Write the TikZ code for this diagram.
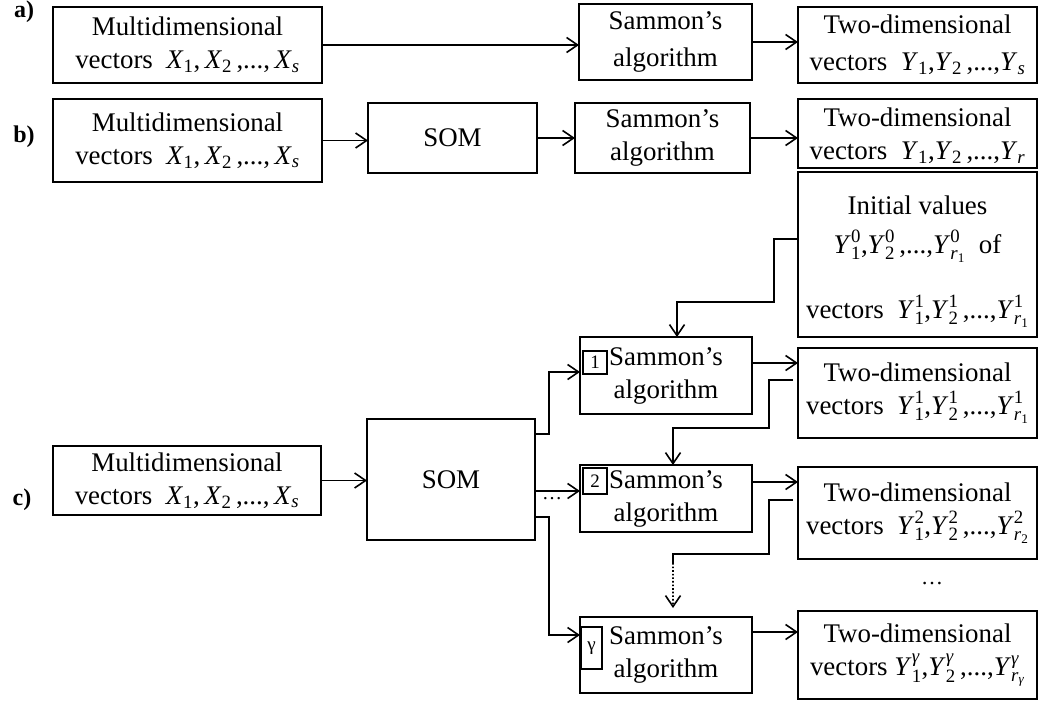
\documentclass[tikz,border=0pt]{standalone}
\usepackage{amsmath}
\usepackage{fontspec}
\setmainfont{Liberation Serif}
\usetikzlibrary{arrows.meta}

% vector symbols
\newcommand{\xv}[1]{$\textit{X\/}_{\text{#1}}$}
\newcommand{\yl}[1]{$\textit{Y\/}_{\text{#1}}$}
\newcommand{\yv}[2]{$\textit{Y\/}^{\text{#2}}_{\text{#1}}$}
\newcommand{\rs}[1]{\textit{r}$_{\text{#1}}$}

\begin{document}
\begin{tikzpicture}[x=1bp, y=-1bp, >={Straight Barb[length=11bp,width=15bp]},
  line width=1.6bp, font=\fontsize{26.9bp}{33bp}\selectfont,
  blk/.style n args={2}{draw, align=center, inner sep=0pt, outer sep=0pt,
    minimum width=#1bp, minimum height=#2bp},
  tag/.style={draw, inner sep=0pt, outer sep=0pt, line width=1.3bp,
    font=\fontsize{19bp}{20bp}\selectfont},
  lbl/.style={font=\bfseries\fontsize{24bp}{24bp}\selectfont}]
\useasboundingbox (0,0) rectangle (1039,701);

% a) direct mapping
\node[lbl] (la) at (24,12) {a)};
\node[blk={269}{76}] (ina) at (187.5,45) {Multidimensional\\vectors\ \ \xv{1},\,\xv{2}\,,...,\,\xv{\textit{s}}};
\node[blk={173}{76}] (sama) at (665.5,42) {Sammon's\\[4bp]algorithm};
\node[blk={239}{76}] (outa) at (917.5,45) {Two-dimensional\\[4bp]vectors\ \ \yl{1},\yl{2}\,,...,\yl{\textit{s}}};
\draw[->] (ina.east) -- (ina.east -| sama.west);
\draw[->] (sama.east) -- (sama.east -| outa.west);

% b) SOM first
\node[lbl] (lb) at (24,137) {b)};
\node[blk={269}{83}] (inb) at (187.5,140.5) {Multidimensional\\vectors\ \ \xv{1},\,\xv{2}\,,...,\,\xv{\textit{s}}};
\node[blk={169}{70}] (somb) at (452.5,138) {SOM};
\node[blk={175}{70}] (samb) at (662.5,138) {Sammon's\\algorithm};
\node[blk={239}{69}] (outb) at (917.5,133.5) {\rule{0pt}{24bp}Two-dimensional\\vectors\ \ \yl{1},\yl{2}\,,...,\yl{\textit{r}}};
\draw[->] (inb.east) -- (inb.east -| somb.west);
\draw[->] (somb.east) -- (samb.west);
\draw[->] (samb.east) -- (samb.east -| outb.west);

% c) SOM + several Sammon runs
\node[lbl] (lc) at (22,500) {c)};
\node[blk={268}{69}] (inc) at (187,480.5) {Multidimensional\\vectors\ \ \xv{1},\,\xv{2}\,,...,\,\xv{\textit{s}}};
\node[blk={168}{121}] (somc) at (451,479.5) {SOM};
\node[blk={239}{165}] (init) at (917.5,254.5) {\rule{0pt}{33bp}Initial values\\[6bp]
  \yv{1}{0},\yv{2}{0}\,,...,\yv{\rs{1}}{0}\ \ of\\[32bp]
  vectors\ \ \yv{1}{1},\yv{2}{1}\,,...,\yv{\rs{1}}{1}};
\node[blk={172}{77}] (sam1) at (666,375.5) {Sammon's\\algorithm};
\node[blk={172}{67}] (sam2) at (666,498.5) {Sammon's\\algorithm};
\node[blk={172}{76}] (samg) at (666,655) {Sammon's\\algorithm};
\node[tag, minimum width=24bp, minimum height=23bp] (t1) at (595,362.5) {1};
\node[tag, minimum width=24bp, minimum height=26bp] (t2) at (595,481) {2};
\node[tag, minimum width=21bp, minimum height=42bp] (tg) at (591.5,648) {γ};
\node[blk={239}{90}] (out1) at (917.5,393) {Two-dimensional\\vectors\ \ \yv{1}{1},\yv{2}{1}\,,...,\yv{\rs{1}}{1}};
\node[blk={239}{92}] (out2) at (917.5,513) {Two-dimensional\\vectors\ \ \yv{1}{2},\yv{2}{2}\,,...,\yv{\rs{2}}{2}};
\node[blk={239}{88}] (outg) at (917.5,655) {Two-dimensional\\vectors\ \yv{1}{\textit{γ}},\yv{2}{\textit{γ}}\,,...,\yv{\rs{\textit{γ}}}{\textit{γ}}};
\node[font=\fontsize{20bp}{20bp}\selectfont] (d1) at (552,499) {\dots};
\node[font=\fontsize{22bp}{22bp}\selectfont] (d2) at (932,584) {\dots};

\draw[->] (inc.east) -- (inc.east -| somc.west);
\draw[->] ([yshift=45.5bp]somc.east) -- ++(14,0) |- ([yshift=3.5bp]sam1.west);
\draw[->] ([yshift=-11.5bp]somc.east) -- ([yshift=-11.5bp]somc.east -| sam2.west);
\draw[->] ([yshift=-37.5bp]somc.east) -- ++(14,0) |- ([yshift=20bp]samg.west);
\draw[->] ([yshift=12.5bp]sam1.east) -- ([yshift=12.5bp]sam1.east -| out1.west);
\draw[->] ([yshift=16.5bp]sam2.east) -- ([yshift=16.5bp]sam2.east -| out2.west);
\draw[->] ([yshift=23bp]samg.east) -- ([yshift=23bp]samg.east -| outg.west);
% feedback of initial values
\draw[->] ([yshift=15.5bp]init.west) -| (774,302) -| ([xshift=11bp]sam1.north);
\draw[->] ([xshift=-5bp,yshift=13bp]out1.west) -| (769,428) -| ([xshift=7bp]sam2.north);
\draw ([xshift=-5bp,yshift=13bp]out2.west) -| (769,554) -| (673,563) coordinate (dg);
\draw[->, dotted] (dg) -- ([xshift=7bp,yshift=9bp]samg.north);
\end{tikzpicture}
\end{document}
